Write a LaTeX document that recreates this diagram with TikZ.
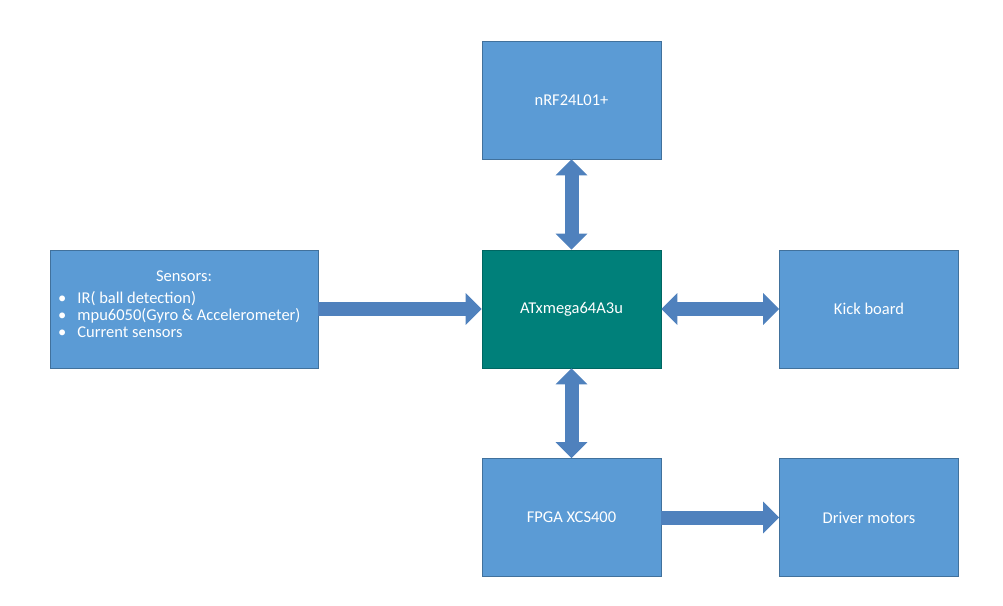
\documentclass[tikz,border=0pt]{standalone}
\usepackage{fontspec}
\setmainfont{Carlito}
\usetikzlibrary{arrows.meta}
\definecolor{bx}{HTML}{5B9BD5}
\definecolor{bd}{HTML}{41719C}
\definecolor{tl}{HTML}{00807A}
\definecolor{ar}{HTML}{4F81BD}
\begin{document}
\begin{tikzpicture}[x=1pt,y=-1pt,
 box/.style={draw=bd,fill=bx,line width=0.8pt,minimum width=179pt,minimum height=118pt,inner sep=0pt,text=white,font=\fontsize{16.5}{17}\selectfont},
 one/.style={draw=ar,line width=14pt,-{Triangle[width=31pt,length=16pt]}},
 two/.style={draw=ar,line width=14pt,{Triangle[width=31pt,length=16pt]}-{Triangle[width=31pt,length=16pt]}}]
\useasboundingbox (0,0) rectangle (1003,605);
\node[box] (n) at (571.5,100) {nRF24L01+};
\node[box,fill=tl,draw=tl!80!black] (a) at (571.5,309) {ATxmega64A3u};
\node[box,minimum width=268pt] (s) at (184,309) {};
\node[text=white,font=\fontsize{16.5}{17}\selectfont,anchor=base,inner sep=0pt] (st) at (184,281) {Sensors:};
\node[text=white,font=\fontsize{16.5}{17}\selectfont,anchor=north west,inner sep=0pt,align=left] (sl) at (58,291)
 {\textbullet\hspace{11pt}IR( ball detection)\\\textbullet\hspace{11pt}mpu6050(Gyro \& Accelerometer)\\\textbullet\hspace{11pt}Current sensors};
\node[box] (k) at (869,309) {Kick board};
\node[box] (f) at (571.5,517.5) {FPGA XCS400};
\node[box] (d) at (869,517.5) {Driver motors};
\draw[one] (s.east) -- (a.west);
\draw[two] (n.south) -- (a.north);
\draw[two] (a.east) -- (k.west);
\draw[two] (a.south) -- (f.north);
\draw[one] (f.east) -- (d.west);
\end{tikzpicture}
\end{document}
